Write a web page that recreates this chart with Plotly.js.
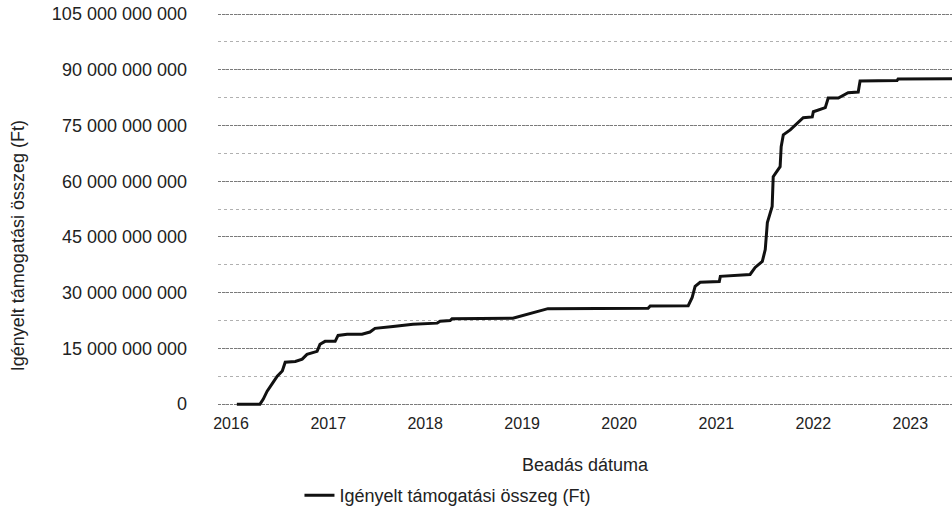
<!DOCTYPE html>
<html>
<head>
<meta charset="utf-8">
<script src="https://cdn.plot.ly/plotly-3.0.1.min.js"></script>
<style>
html,body{margin:0;padding:0;background:#fff;}
#chart{width:952px;height:514px;}
</style>
</head>
<body>
<div id="chart"></div>
<script>
var seriesName = "Igényelt támogatási összeg (Ft)";
var xTitle = "Beadás dátuma";
var yTitle = "Igényelt támogatási összeg (Ft)";

var dates = [
  "2016-01-23","2016-04-19","2016-05-01","2016-05-16","2016-06-08","2016-06-23","2016-07-12","2016-07-23",
  "2016-08-30","2016-09-25","2016-10-13","2016-11-20","2016-12-01","2016-12-20","2017-01-27","2017-02-07",
  "2017-03-13","2017-05-08","2017-06-07","2017-06-26","2017-09-02","2017-11-16","2018-02-15","2018-02-26",
  "2018-04-05","2018-04-12","2018-11-27","2019-01-12","2019-02-11","2019-03-20","2019-04-08","2020-04-19",
  "2020-04-27","2020-09-17","2020-10-02","2020-10-13","2020-11-01","2021-01-12","2021-01-16","2021-05-08",
  "2021-05-27","2021-06-23","2021-07-04","2021-07-12","2021-07-30","2021-08-03","2021-08-18","2021-08-29",
  "2021-09-02","2021-09-10","2021-10-06","2021-11-01","2021-11-24","2021-12-28","2022-01-01","2022-02-15",
  "2022-02-26","2022-04-05","2022-05-12","2022-06-19","2022-06-26","2022-11-12","2022-11-16","2023-06-07"
];
var amounts = [
  0,0,1300000000,3500000000,5900000000,7500000000,8900000000,11300000000,
  11500000000,12100000000,13400000000,14200000000,16100000000,16900000000,16900000000,18500000000,
  18800000000,18800000000,19400000000,20400000000,20900000000,21500000000,21800000000,22300000000,
  22500000000,23000000000,23100000000,24000000000,24500000000,25200000000,25700000000,25800000000,
  26400000000,26500000000,28700000000,31700000000,32800000000,33000000000,34400000000,34900000000,
  36800000000,38400000000,41600000000,48900000000,53200000000,61200000000,62600000000,63900000000,
  69300000000,72500000000,73800000000,75700000000,77100000000,77300000000,78700000000,79800000000,
  82400000000,82400000000,83800000000,84000000000,87000000000,87100000000,87500000000,87600000000
];
var yTickVals = [0,15000000000,30000000000,45000000000,60000000000,75000000000,90000000000,105000000000];
var xTickVals = ["2016-01-01","2017-01-01","2018-01-01","2019-01-01","2020-01-01","2021-01-01","2022-01-01","2023-01-01"];
var xTickText = ["2016","2017","2018","2019","2020","2021","2022","2023"];

var font = "Liberation Sans, Arial, sans-serif";

var trace = {
  x: dates, y: amounts, type: "scatter", mode: "lines", name: seriesName,
  line: {color: "#111", width: 3}, showlegend: true
};

var layout = {
  width: 952, height: 514,
  margin: {l: 218, r: 0, t: 1, b: 107, pad: 0},
  paper_bgcolor: "#fff", plot_bgcolor: "#fff",
  separators: ", ",
  font: {family: font, color: "#222", size: 16},
  showlegend: true,
  legend: {orientation: "h", x: 0.111, xanchor: "left", y: -0.175, yanchor: "top",
           font: {family: font, size: 18, color: "#222"}, bgcolor: "rgba(0,0,0,0)"},
  xaxis: {
    type: "date", range: ["2015-11-13", "2023-06-07"],
    tickvals: xTickVals, ticktext: xTickText,
    showgrid: false, zeroline: false, showline: false, ticks: "",
    ticklabelstandoff: 6,
    tickfont: {family: font, size: 16, color: "#222"},
    title: {text: xTitle, font: {family: font, size: 18, color: "#222"}, standoff: 27},
    automargin: false
  },
  yaxis: {
    range: [-500000000, 108500000000],
    tickvals: yTickVals, tickformat: ",d",
    showgrid: true, gridcolor: "#7a7a7a", gridwidth: 1, griddash: "3px,1px",
    minor: {dtick: 7500000000, showgrid: true, gridcolor: "#b0b0b0", gridwidth: 1, griddash: "dot", tick0: 0},
    zeroline: false, showline: false, ticks: "",
    ticklabelstandoff: 30,
    tickfont: {family: font, size: 18, color: "#222"},
    automargin: false
  },
  annotations: [{
    text: yTitle, xref: "paper", yref: "paper", x: -0.2725, y: 0.397,
    xanchor: "center", yanchor: "middle", textangle: -90, showarrow: false,
    font: {family: font, size: 18, color: "#222"}
  }]
};

Plotly.newPlot("chart", [trace], layout, {displayModeBar: false, staticPlot: true});
</script>
</body>
</html>
